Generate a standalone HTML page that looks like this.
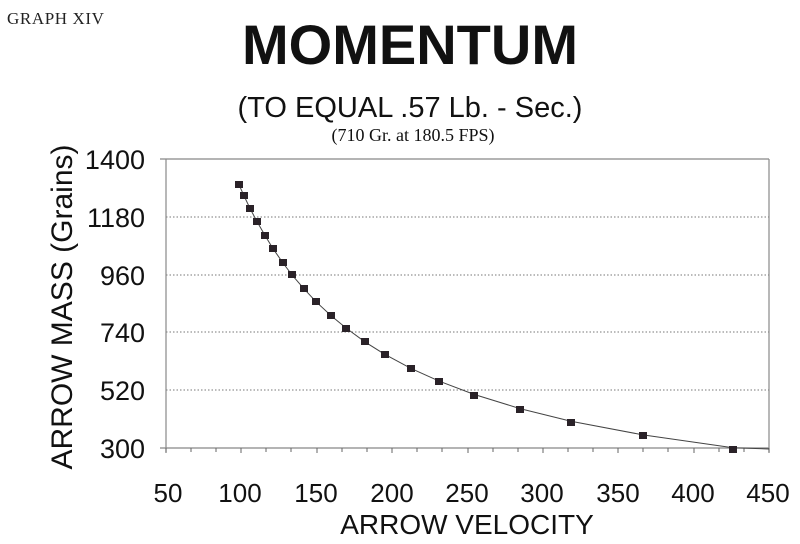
<!DOCTYPE html>
<html><head><style>body{margin:0;background:#fff}svg{display:block}</style></head><body>
<svg width="800" height="544" xmlns="http://www.w3.org/2000/svg" font-family="Liberation Sans, Arial, sans-serif">
<rect width="800" height="544" fill="#fff"/>
<text x="7" y="24" font-family="Liberation Serif, serif" font-size="17" letter-spacing="0.6" fill="#222">GRAPH XIV</text>
<text x="410" y="64" font-size="56" font-weight="bold" text-anchor="middle" fill="#111">MOMENTUM</text>
<text x="410" y="117" font-size="29" text-anchor="middle" fill="#111">(TO EQUAL .57 Lb. - Sec.)</text>
<text x="413" y="141" font-family="Liberation Serif, serif" font-size="18" text-anchor="middle" fill="#111">(710 Gr. at  180.5 FPS)</text>
<g stroke="#777" stroke-width="1" stroke-dasharray="1.5,2">
<line x1="166" y1="217" x2="769" y2="217"/><line x1="166" y1="275" x2="769" y2="275"/>
<line x1="166" y1="332" x2="769" y2="332"/><line x1="166" y1="390" x2="769" y2="390"/>
</g>
<g stroke="#888" stroke-width="1.2" fill="none">
<line x1="160" y1="159" x2="769" y2="159"/><line x1="769" y1="159" x2="769" y2="452"/>
<line x1="166" y1="159" x2="166" y2="452"/><line x1="160" y1="448" x2="769" y2="448"/>
</g>
<g stroke="#666" stroke-width="1">
<line x1="166" y1="448" x2="166" y2="453"/><line x1="191" y1="448" x2="191" y2="452"/><line x1="216" y1="448" x2="216" y2="452"/><line x1="241" y1="448" x2="241" y2="453"/><line x1="266" y1="448" x2="266" y2="452"/><line x1="291" y1="448" x2="291" y2="452"/><line x1="317" y1="448" x2="317" y2="453"/><line x1="342" y1="448" x2="342" y2="452"/><line x1="367" y1="448" x2="367" y2="452"/><line x1="392" y1="448" x2="392" y2="453"/><line x1="417" y1="448" x2="417" y2="452"/><line x1="442" y1="448" x2="442" y2="452"/><line x1="468" y1="448" x2="468" y2="453"/><line x1="493" y1="448" x2="493" y2="452"/><line x1="518" y1="448" x2="518" y2="452"/><line x1="543" y1="448" x2="543" y2="453"/><line x1="568" y1="448" x2="568" y2="452"/><line x1="593" y1="448" x2="593" y2="452"/><line x1="618" y1="448" x2="618" y2="453"/><line x1="643" y1="448" x2="643" y2="452"/><line x1="668" y1="448" x2="668" y2="452"/><line x1="694" y1="448" x2="694" y2="453"/><line x1="719" y1="448" x2="719" y2="452"/><line x1="744" y1="448" x2="744" y2="452"/><line x1="769" y1="448" x2="769" y2="453"/>
</g>
<g font-size="27" fill="#111" text-anchor="end">
<text x="145" y="169">1400</text><text x="145" y="227">1180</text><text x="145" y="285">960</text>
<text x="145" y="342">740</text><text x="145" y="400">520</text><text x="145" y="458">300</text>
</g>
<g font-size="26" fill="#111" text-anchor="middle">
<text x="168" y="502">50</text><text x="240" y="502">100</text><text x="316" y="502">150</text>
<text x="392" y="502">200</text><text x="467" y="502">250</text><text x="542" y="502">300</text>
<text x="618" y="502">350</text><text x="693" y="502">400</text><text x="768" y="502">450</text>
</g>
<text x="467" y="534" font-size="28" text-anchor="middle" fill="#111">ARROW VELOCITY</text>
<text transform="translate(72,307) rotate(-90)" font-size="30" text-anchor="middle" fill="#111">ARROW MASS (Grains)</text>
<polyline fill="none" stroke="#444" stroke-width="1" points="239,184.7 244,195.8 250,208.4 257,221.5 265,235.5 273,248.6 283,263 292,274.9 304,288.8 316,301.7 331,315.6 346,328 365,341.9 385,354.5 411,368.4 439,381.1 474,394.4 520,408.6 571,421.2 643,434.9 733,447.7 769,449"/>
<g fill="#2a2228">
<rect x="235" y="181" width="8" height="7"/><rect x="240" y="192" width="8" height="7"/><rect x="246" y="205" width="8" height="7"/><rect x="253" y="218" width="8" height="7"/><rect x="261" y="232" width="8" height="7"/><rect x="269" y="245" width="8" height="7"/><rect x="279" y="259" width="8" height="7"/><rect x="288" y="271" width="8" height="7"/><rect x="300" y="285" width="8" height="7"/><rect x="312" y="298" width="8" height="7"/><rect x="327" y="312" width="8" height="7"/><rect x="342" y="325" width="8" height="7"/><rect x="361" y="338" width="8" height="7"/><rect x="381" y="351" width="8" height="7"/><rect x="407" y="365" width="8" height="7"/><rect x="435" y="378" width="8" height="7"/><rect x="470" y="392" width="8" height="7"/><rect x="516" y="406" width="8" height="7"/><rect x="567" y="419" width="8" height="7"/><rect x="639" y="432" width="8" height="7"/><rect x="729" y="446" width="8" height="7"/>
</g>
</svg>
</body></html>
